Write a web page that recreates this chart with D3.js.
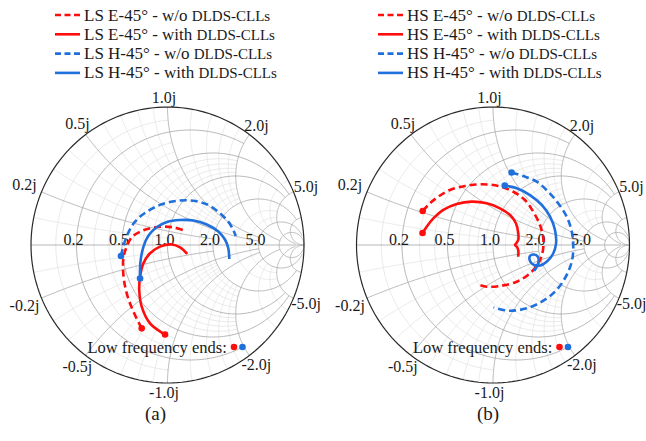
<!DOCTYPE html>
<html><head><meta charset="utf-8">
<script src="https://cdn.jsdelivr.net/npm/d3@7/dist/d3.min.js"></script>
<style>
body{margin:0;background:#fff}
text{font-family:"Liberation Serif","Times New Roman",serif;fill:#1a1a1a}
</style>
</head><body>
<svg id="c" width="646" height="441"></svg>
<script>
// ---------- grid / tick values ----------
const realTickValues = [0.2, 0.5, 1, 2, 5];
const realTickLabels = ["0.2", "0.5", "1.0", "2.0", "5.0"];
const imagTickValues = [0.2, 0.5, 1, 2, 5];
const imagTickLabelsPos = ["0.2j", "0.5j", "1.0j", "2.0j", "5.0j"];
const imagTickLabelsNeg = ["-0.2j", "-0.5j", "-1.0j", "-2.0j", "-5.0j"];
const gridMajorValues = [10, 5, 2, 1, 0.5, 0.2];
const gridMajorLimits = [Infinity, 30, 10, 5, 5, 2];
const gridMinorValues = [0.1, 0.3, 0.4, 0.6, 0.7, 0.8, 0.9, 1.2, 1.4, 1.6, 1.8, 3, 4];
const gridMinorLimits = [1, 1, 1, 2, 2, 2, 2, 2, 2, 2, 2, 5, 5];

// ---------- series names ----------
const seriesNamesA = ["LS E-45° - w/o ", "LS E-45° - with ", "LS H-45° - w/o ", "LS H-45° - with "];
const seriesNamesB = ["HS E-45° - w/o ", "HS E-45° - with ", "HS H-45° - w/o ", "HS H-45° - with "];
const seriesSuffix = "DLDS-CLLs";

// ---------- panel (a): reflection coefficient (real, imag), from low-frequency end ----------
const aEwoRe = [-0.189,-0.245,-0.293,-0.319,-0.326,-0.322,-0.299,-0.262,-0.201,-0.128,-0.042,0.042,0.128];
const aEwoIm = [-0.604,-0.493,-0.370,-0.254,-0.157,-0.085,-0.012,0.056,0.096,0.121,0.133,0.128,0.104];
const aEwRe  = [-0.018,-0.128,-0.189,-0.207,-0.201,-0.177,-0.128,-0.055,0.031,0.092,0.145];
const aEwIm  = [-0.649,-0.568,-0.447,-0.326,-0.230,-0.133,-0.060,-0.012,0.004,-0.017,-0.065];
const aHwoRe = [-0.341,-0.324,-0.295,-0.238,-0.152,-0.042,0.079,0.189,0.287,0.372,0.445,0.482,0.500];
const aHwoIm = [-0.080,-0.012,0.072,0.169,0.241,0.295,0.321,0.321,0.295,0.241,0.169,0.109,0.065];
const aHwRe  = [-0.201,-0.199,-0.176,-0.139,-0.077,-0.004,0.092,0.189,0.287,0.372,0.421,0.445,0.453];
const aHwIm  = [-0.243,-0.130,-0.012,0.069,0.130,0.167,0.181,0.178,0.149,0.098,0.040,-0.022,-0.101];

// ---------- panel (b) ----------
const bEwoRe = [-0.515,-0.462,-0.401,-0.315,-0.205,-0.083,0.039,0.149,0.234,0.295,0.344,0.368,0.364,0.332,0.271,0.174,0.051,-0.046,-0.115];
const bEwoIm = [0.246,0.302,0.350,0.399,0.428,0.440,0.428,0.386,0.326,0.241,0.145,0.049,-0.049,-0.133,-0.205,-0.266,-0.297,-0.302,-0.285];
const bEwRe  = [-0.516,-0.486,-0.437,-0.364,-0.266,-0.156,-0.046,0.051,0.125,0.168,0.185,0.185,0.172,0.161,0.176,0.185,0.185];
const bEwIm  = [0.087,0.133,0.193,0.254,0.297,0.314,0.302,0.266,0.217,0.157,0.085,0.036,0.014,0.000,-0.014,-0.036,-0.085];
const bHwoRe = [0.136,0.222,0.320,0.405,0.478,0.540,0.577,0.588,0.577,0.527,0.454,0.357,0.247,0.125,0.027,0.004];
const bHwoIm = [0.525,0.500,0.459,0.386,0.302,0.205,0.096,-0.012,-0.121,-0.241,-0.338,-0.411,-0.459,-0.476,-0.459,-0.452];
const bHwRe  = [0.086,0.174,0.271,0.357,0.418,0.454,0.462,0.442,0.393,0.344,0.300,0.271,0.271,0.300,0.330,0.333,0.315,0.300];
const bHwIm  = [0.431,0.411,0.362,0.290,0.205,0.109,0.012,-0.060,-0.121,-0.149,-0.145,-0.116,-0.080,-0.069,-0.087,-0.123,-0.167,-0.188];

const RED = "#ff0d0d", BLUE = "#1f6fdc";
const seriesStyles = [
  {color: RED, dash: true}, {color: RED, dash: false},
  {color: BLUE, dash: true}, {color: BLUE, dash: false}
];
const DASH = "7,4";

const panels = [
  {cx: 167.5, off: 0, tag: "(a)", tagDx: -12, names: seriesNamesA,
   data: [[aEwoRe,aEwoIm],[aEwRe,aEwIm],[aHwoRe,aHwoIm],[aHwRe,aHwIm]]},
  {cx: 493, off: 323, tag: "(b)", tagDx: -5, names: seriesNamesB,
   data: [[bEwoRe,bEwoIm],[bEwRe,bEwIm],[bHwoRe,bHwoIm],[bHwRe,bHwIm]]}
];

const svg = d3.select("#c");
const RX = 136.5, CY = 245, RY = 138;

function gamma(r, x) { const d = (r+1)*(r+1) + x*x; return [(r*r + x*x - 1)/d, 2*x/d]; }
function norm(a) { return a < 0 ? a + 2*Math.PI : a; }
function rCirclePts(r, L) {
  const c = r/(1+r), rho = 1/(1+r);
  let p0 = 0;
  if (isFinite(L)) { const g = gamma(r, L); p0 = Math.atan2(g[1], g[0]-c); }
  const n = 240, pts = [];
  for (let i = 0; i <= n; i++) { const p = p0 + (2*Math.PI - 2*p0)*i/n; pts.push([c + rho*Math.cos(p), rho*Math.sin(p)]); }
  return pts;
}
function xArcPts(x, L) {
  const ax = Math.abs(x), s = Math.sign(x), cyy = 1/ax, rho = 1/ax;
  const g0 = gamma(0, ax);
  const a0 = norm(Math.atan2(g0[1]-cyy, g0[0]-1));
  let a1 = 1.5*Math.PI;
  if (isFinite(L)) { const g = gamma(L, ax); a1 = norm(Math.atan2(g[1]-cyy, g[0]-1)); }
  const n = 200, pts = [];
  for (let i = 0; i <= n; i++) { const a = a0 + (a1-a0)*i/n; pts.push([1 + rho*Math.cos(a), s*(cyy + rho*Math.sin(a))]); }
  return pts;
}

panels.forEach(P => {
  const sx = d3.scaleLinear().domain([-1, 1]).range([P.cx - RX, P.cx + RX]);
  const sy = d3.scaleLinear().domain([-1, 1]).range([CY + RY, CY - RY]);
  const line = d3.line().x(d => sx(d[0])).y(d => sy(d[1]));
  const g = svg.append("g");

  // minor grid
  const gm = g.append("g").attr("fill", "none").attr("stroke", "#e0e0e0").attr("stroke-width", 0.7);
  gridMinorValues.forEach((v, i) => {
    const L = gridMinorLimits[i];
    gm.append("path").attr("d", line(rCirclePts(v, L)));
    gm.append("path").attr("d", line(xArcPts(v, L)));
    gm.append("path").attr("d", line(xArcPts(-v, L)));
  });
  // major grid
  const gM = g.append("g").attr("fill", "none").attr("stroke", "#a5a5a5").attr("stroke-width", 0.8);
  gridMajorValues.forEach((v, i) => {
    const L = gridMajorLimits[i];
    gM.append("path").attr("d", line(rCirclePts(v, L)));
    gM.append("path").attr("d", line(xArcPts(v, L)));
    gM.append("path").attr("d", line(xArcPts(-v, L)));
  });
  gM.append("path").attr("d", line([[-1, 0], [1, 0]]));
  // outer circle
  const outer = d3.range(0, 361, 2).map(a => [Math.cos(a*Math.PI/180), Math.sin(a*Math.PI/180)]);
  g.append("path").attr("d", line(outer)).attr("fill", "none").attr("stroke", "#2a2a2a").attr("stroke-width", 1.2);

  // real-axis labels
  realTickValues.forEach((v, i) => {
    const gx = (v-1)/(v+1);
    g.append("text").attr("x", sx(gx) - 3).attr("y", sy(0) - 0.5)
      .attr("text-anchor", "middle").attr("font-size", 16).text(realTickLabels[i]);
  });
  // reactance labels
  const kFac = {0.2: 1.135, 0.5: 1.10, 1: 1.068, 2: 1.085, 5: 1.10};
  imagTickValues.forEach((v, i) => {
    [1, -1].forEach(sgn => {
      const gg = gamma(0, v*sgn);
      const th = Math.atan2(gg[1], gg[0]);
      const k = kFac[v];
      g.append("text").attr("x", sx(k*Math.cos(th)) - (v === 1 ? 3.5 : 0)).attr("y", sy(k*Math.sin(th)))
        .attr("dy", "0.35em").attr("text-anchor", "middle").attr("font-size", 16)
        .text(sgn > 0 ? imagTickLabelsPos[i] : imagTickLabelsNeg[i]);
    });
  });

  // curves
  const curve = d3.line().x(d => sx(d[0])).y(d => sy(d[1])).curve(d3.curveCatmullRom.alpha(0.5));
  P.data.forEach((d, si) => {
    const pts = d[0].map((re, j) => [re, d[1][j]]);
    const st = seriesStyles[si];
    g.append("path").attr("d", curve(pts)).attr("fill", "none").attr("stroke", st.color)
      .attr("stroke-width", 2.6).attr("stroke-dasharray", st.dash ? DASH : null);
  });
  P.data.forEach((d, si) => {
    g.append("circle").attr("cx", sx(d[0][0])).attr("cy", sy(d[1][0])).attr("r", 3.3)
      .attr("fill", seriesStyles[si].color);
  });

  // low frequency note
  g.append("text").attr("x", P.cx - 80).attr("y", 352.5).attr("font-size", 16.5).text("Low frequency ends:");
  g.append("circle").attr("cx", P.cx + 66.5).attr("cy", 347).attr("r", 3.3).attr("fill", RED);
  g.append("circle").attr("cx", P.cx + 75).attr("cy", 347).attr("r", 3.3).attr("fill", BLUE);

  // panel tag
  g.append("text").attr("x", P.cx + P.tagDx).attr("y", 419.5).attr("text-anchor", "middle")
    .attr("font-size", 19).text(P.tag);

  // legend
  const lg = svg.append("g");
  P.names.forEach((nm, i) => {
    const y = 15 + i*19.3;
    const st = seriesStyles[i];
    lg.append("line").attr("x1", P.off + 55).attr("x2", P.off + 80).attr("y1", y).attr("y2", y)
      .attr("stroke", st.color).attr("stroke-width", 2.6).attr("stroke-dasharray", st.dash ? "6,3.5" : null);
    const t = lg.append("text").attr("x", P.off + 84).attr("y", y + 5.5).attr("font-size", 17);
    t.append("tspan").text(nm);
    t.append("tspan").attr("font-size", 15).text(seriesSuffix);
  });
});
</script>
</body></html>
